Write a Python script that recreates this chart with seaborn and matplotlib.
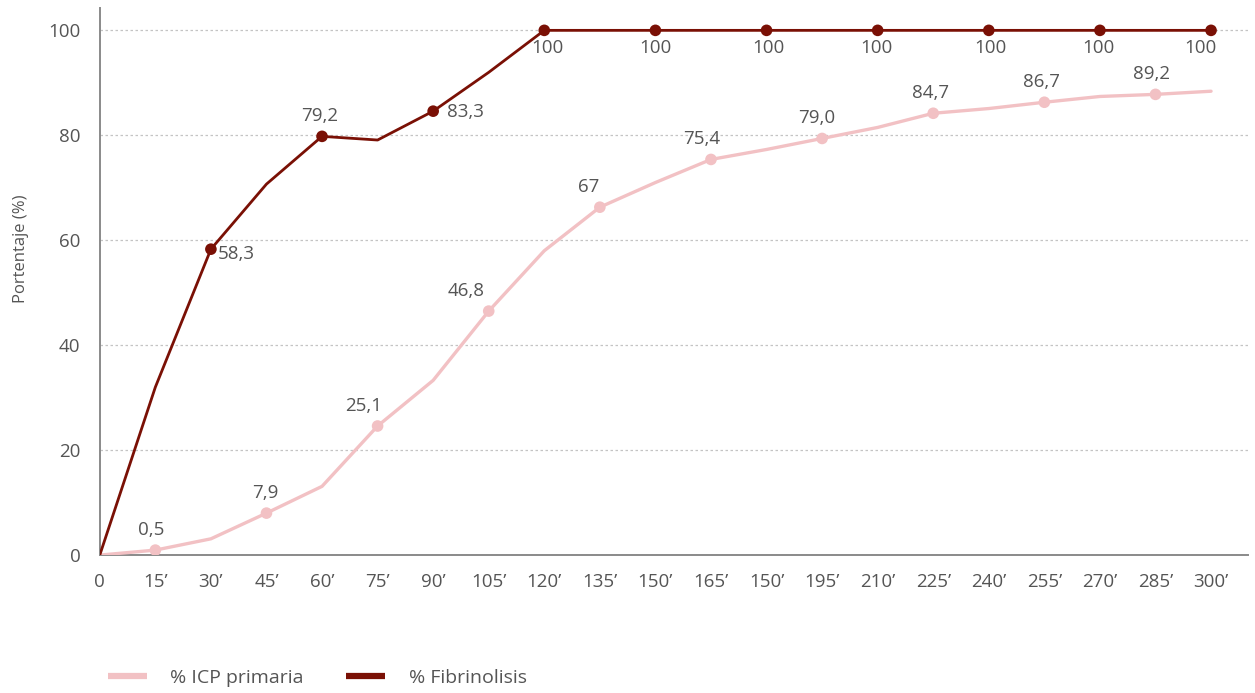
import matplotlib
matplotlib.use("Agg")
import matplotlib.pyplot as plt
from matplotlib.lines import Line2D
import seaborn as sns
import pandas as pd

# ---------------- data ----------------
minutes = [0, 15, 30, 45, 60, 75, 90, 105, 120, 135, 150, 165, 180, 195, 210,
           225, 240, 255, 270, 285, 300]
tick_labels = ["0", "15’", "30’", "45’", "60’", "75’", "90’", "105’", "120’", "135’",
               "150’", "165’", "150’", "195’", "210’", "225’", "240’", "255’", "270’",
               "285’", "300’"]

icp_primaria = [0, 0.95, 3.1, 8.0, 13.1, 24.6, 33.3, 46.5, 58.0, 66.3, 71.0, 75.4,
                77.3, 79.4, 81.5, 84.2, 85.1, 86.3, 87.4, 87.8, 88.4]
fibrinolisis = [0, 32.0, 58.3, 70.7, 79.8, 79.1, 84.6, 92.0, 100, 100, 100, 100,
                100, 100, 100, 100, 100, 100, 100, 100, 100]

icp_marker_minutes = [15, 45, 75, 105, 135, 165, 195, 225, 255, 285]
icp_labels = ["0,5", "7,9", "25,1", "46,8", "67", "75,4", "79,0", "84,7", "86,7", "89,2"]
fib_marker_minutes = [30, 60, 90, 120, 150, 180, 210, 240, 270, 300]
fib_labels = ["58,3", "79,2", "83,3", "100", "100", "100", "100", "100", "100", "100"]

series_names = ["% ICP primaria", "% Fibrinolisis"]
y_label = "Portentaje (%)"

# ---------------- style ----------------
PINK = "#F2C1C4"
DARK = "#7A1005"
TEXT = "#555555"
AXIS = "#8a8a8a"
FS = 13.5

sns.set_theme(style="white")
plt.rcParams["font.family"] = ["Open Sans", "DejaVu Sans"]

fig = plt.figure(figsize=(12.55, 6.93), dpi=100)
ax = fig.add_axes([0.0795, 0.199, 0.915, 0.789])

df = pd.DataFrame({"min": minutes, "icp": icp_primaria, "fib": fibrinolisis})

sns.lineplot(data=df, x="min", y="icp", color=PINK, lw=2.4, ax=ax, zorder=3)
sns.lineplot(data=df, x="min", y="fib", color=DARK, lw=2.0, ax=ax, zorder=4)

icp_pts = df[df["min"].isin(icp_marker_minutes)]
fib_pts = df[df["min"].isin(fib_marker_minutes)]
sns.scatterplot(x=icp_pts["min"], y=icp_pts["icp"], color=PINK, s=70,
                edgecolor="none", ax=ax, zorder=5)
sns.scatterplot(x=fib_pts["min"], y=fib_pts["fib"], color=DARK, s=70,
                edgecolor="none", ax=ax, zorder=6)

# labels for pink (above, slightly left)
icp_dx = [-3, -1, -10, -16, -8, -7, -4, -2, -2, -3]
for (xm, yv), lab, dx in zip(zip(icp_pts["min"], icp_pts["icp"]), icp_labels, icp_dx):
    ax.annotate(lab, (xm, yv), xytext=(dx, 8), textcoords="offset points",
                ha="center", va="bottom", fontsize=FS, color=TEXT, zorder=7,
                fontweight="medium")

# labels for dark
fib_off = [(5, 3, "left", "top"), (-2, 8, "center", "bottom"), (10, 6, "left", "top"),
           (2, -6, "center", "top"), (0, -6, "center", "top"), (1, -6, "center", "top"),
           (-1, -6, "center", "top"), (1, -6, "center", "top"), (-1, -6, "center", "top"),
           (-8, -6, "center", "top")]
for (xm, yv), lab, (dx, dy, ha, va) in zip(zip(fib_pts["min"], fib_pts["fib"]),
                                           fib_labels, fib_off):
    ax.annotate(lab, (xm, yv), xytext=(dx, dy), textcoords="offset points",
                ha=ha, va=va, fontsize=FS, color=TEXT, zorder=7, fontweight="medium")

# axes
ax.set_xlim(0, 310)
ax.set_ylim(0, 104.2)
ax.set_xticks(minutes)
ax.set_xticklabels(tick_labels)
ax.set_yticks([0, 20, 40, 60, 80, 100])
ax.tick_params(axis="both", length=0, labelsize=FS, labelcolor=TEXT)
ax.tick_params(axis="y", pad=14)
ax.tick_params(axis="x", pad=13)
ax.set_xlabel("")
ax.set_ylabel(y_label, fontsize=12, color=TEXT)
ax.yaxis.set_label_coords(-0.062, 0.56)

for side in ["top", "right"]:
    ax.spines[side].set_visible(False)
for side in ["left", "bottom"]:
    ax.spines[side].set_color(AXIS)
    ax.spines[side].set_linewidth(1.4)

ax.yaxis.grid(True, linestyle=(0, (2, 2)), color="#c4c4c4", linewidth=0.9)
ax.xaxis.grid(False)
ax.set_axisbelow(True)

handles = [Line2D([0], [0], color=PINK, lw=4.5, solid_capstyle="butt"),
           Line2D([0], [0], color=DARK, lw=4.5, solid_capstyle="butt")]
fig.legend(handles, series_names, loc="center left", bbox_to_anchor=(0.072, 0.022),
           ncol=2, frameon=False, fontsize=14, handlelength=2.0, handletextpad=1.2,
           columnspacing=2.2, labelcolor=TEXT)

fig.savefig("out.png", dpi=100)
